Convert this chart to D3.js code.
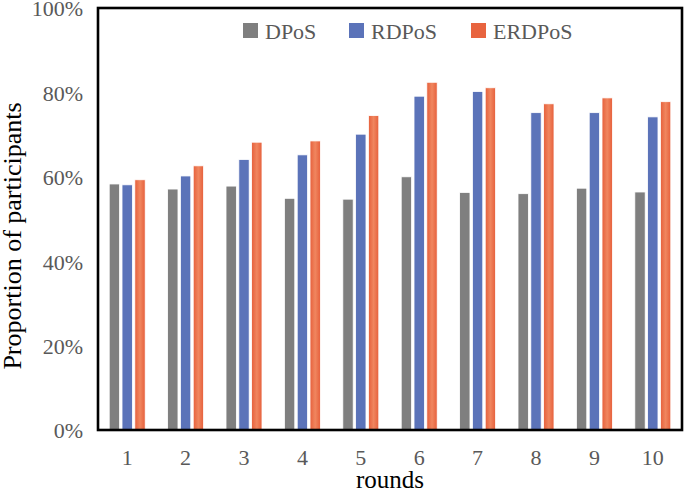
<!DOCTYPE html>
<html>
<head>
<meta charset="utf-8">
<script src="https://cdn.jsdelivr.net/npm/d3@7"></script>
<style>
  body { margin: 0; background: #fff; }
  text { font-family: "Liberation Serif", "Times New Roman", serif; }
</style>
</head>
<body>
<div id="chart"></div>
<script>
// data
const rounds = ["1", "2", "3", "4", "5", "6", "7", "8", "9", "10"];
const seriesNames = ["DPoS", "RDPoS", "ERDPoS"];
const dpos   = [58.3, 57.1, 57.8, 54.9, 54.7, 60.0, 56.3, 56.0, 57.3, 56.4];
const rdpos  = [58.1, 60.2, 64.1, 65.2, 70.1, 79.1, 80.2, 75.2, 75.2, 74.2];
const erdpos = [59.3, 62.6, 68.2, 68.5, 74.5, 82.4, 81.1, 77.3, 78.7, 77.8];
const yTicks = [0, 20, 40, 60, 80, 100];

const colors = { DPoS: "#7f7f7f", RDPoS: "#5b73b9", ERDPoS: "url(#orangeGrad)" };
const legendColors = { DPoS: "#7f7f7f", RDPoS: "#5b73b9", ERDPoS: "#e8643f" };

const width = 685, height = 491;
const margin = { top: 8, right: 3, bottom: 61, left: 98 };

const svg = d3.select("#chart").append("svg")
    .attr("width", width)
    .attr("height", height);

// orange bars have a soft light stripe down the middle
const grad = svg.append("defs").append("linearGradient")
    .attr("id", "orangeGrad")
    .attr("x1", "0%").attr("x2", "100%").attr("y1", "0%").attr("y2", "0%");
grad.append("stop").attr("offset", "0%").attr("stop-color", "#e65f3b");
grad.append("stop").attr("offset", "50%").attr("stop-color", "#f0865f");
grad.append("stop").attr("offset", "100%").attr("stop-color", "#e65f3b");

const x0 = d3.scaleBand()
    .domain(rounds)
    .range([margin.left, width - margin.right])
    .paddingInner(0.384)
    .paddingOuter(0.192);

const x1 = d3.scaleBand()
    .domain(seriesNames)
    .range([0, x0.bandwidth()])
    .paddingInner(0.19);

const y = d3.scaleLinear()
    .domain([0, 100])
    .range([height - margin.bottom, margin.top]);

const rows = rounds.map((r, i) => ({
    round: r,
    values: [
        { key: "DPoS", value: dpos[i] },
        { key: "RDPoS", value: rdpos[i] },
        { key: "ERDPoS", value: erdpos[i] }
    ]
}));

// bars
svg.append("g")
    .selectAll("g")
    .data(rows)
    .join("g")
    .attr("transform", d => `translate(${x0(d.round)},0)`)
    .selectAll("rect")
    .data(d => d.values)
    .join("rect")
    .attr("x", d => x1(d.key))
    .attr("y", d => y(d.value))
    .attr("width", x1.bandwidth())
    .attr("height", d => y(0) - y(d.value))
    .attr("fill", d => colors[d.key])
    .attr("stroke", "#fff")
    .attr("stroke-width", 0.8);

// frame
svg.append("rect")
    .attr("x", margin.left)
    .attr("y", margin.top)
    .attr("width", width - margin.left - margin.right)
    .attr("height", height - margin.top - margin.bottom)
    .attr("fill", "none")
    .attr("stroke", "#000")
    .attr("stroke-width", 2.6);

// y tick labels
const yAxis = svg.append("g")
    .attr("transform", `translate(${margin.left},0)`)
    .call(d3.axisLeft(y).tickValues(yTicks).tickSize(0).tickPadding(15).tickFormat(d => d + "%"));
yAxis.select(".domain").remove();
yAxis.selectAll("text")
    .attr("font-family", "Liberation Serif")
    .attr("font-size", 22)
    .attr("fill", "#595959")
    .attr("dy", "0.36em");

// x tick labels
const xAxis = svg.append("g")
    .attr("transform", `translate(0,${height - margin.bottom})`)
    .call(d3.axisBottom(x0).tickSize(0).tickPadding(19));
xAxis.select(".domain").remove();
xAxis.selectAll("text")
    .attr("font-family", "Liberation Serif")
    .attr("font-size", 22)
    .attr("fill", "#595959");

// axis titles
svg.append("text")
    .attr("x", (margin.left + width - margin.right) / 2)
    .attr("y", 488)
    .attr("text-anchor", "middle")
    .attr("font-size", 25)
    .attr("fill", "#000")
    .text("rounds");

svg.append("text")
    .attr("transform", `translate(21,236) rotate(-90)`)
    .attr("text-anchor", "middle")
    .attr("font-size", 26)
    .attr("fill", "#000")
    .text("Proportion of participants");

// legend
const legendX = [243, 349, 471];
const legend = svg.append("g")
    .selectAll("g")
    .data(seriesNames)
    .join("g")
    .attr("transform", (d, i) => `translate(${legendX[i]},23)`);
legend.append("rect")
    .attr("width", 15)
    .attr("height", 15)
    .attr("fill", d => legendColors[d]);
legend.append("text")
    .attr("x", 22)
    .attr("y", 16)
    .attr("font-size", 22)
    .attr("fill", "#595959")
    .text(d => d);
</script>
</body>
</html>
